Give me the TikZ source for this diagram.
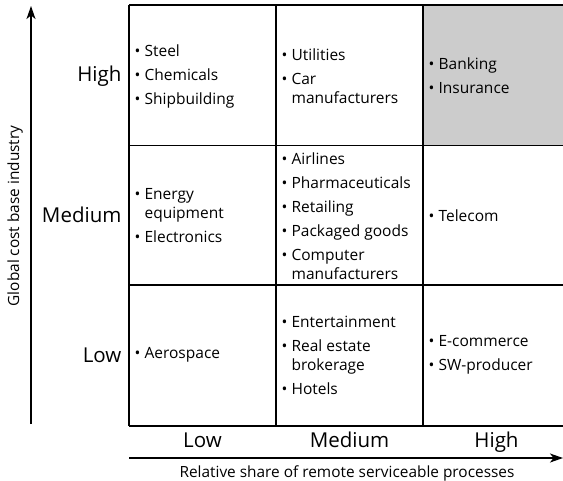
\documentclass[tikz,border=0pt]{standalone}
\usepackage{fontspec}
\setmainfont{Open Sans}
\usetikzlibrary{arrows.meta}
\newcommand{\bul}{\makebox[10pt][l]{\textbullet}}
\newcommand{\hang}{\hspace*{10pt}}

\begin{document}
\begin{tikzpicture}[x=1pt, y=-1pt, line width=1.2pt,
  cell/.style = {anchor=west, align=left, inner sep=0pt, font=\fontsize{15.5}{19}\selectfont},
  lvl/.style = {inner sep=0pt, font=\fontsize{20.5}{24}\selectfont},
  ttl/.style = {inner sep=0pt, font=\fontsize{15.4}{18}\selectfont},
  axis/.style = {-{Stealth[length=13pt, width=9pt, inset=3.5pt]}}]
  \useasboundingbox (0,0) rectangle (563,480);
  \fill[black!20] (423,5) rectangle (563,145.5);
  \foreach \y in {5,145.5,285,426} \draw (129,\y) -- (563,\y);
  \foreach \x in {129,276,423} \draw (\x,5) -- (\x,426);

  \node[cell] (hl) at (134,76) {\bul Steel\\[5pt]\bul Chemicals\\[5pt]\bul Shipbuilding};
  \node[cell] (hm) at (281,76) {\bul Utilities\\[5pt]\bul Car\\\hang manufacturers};
  \node[cell] (hh) at (428,76) {\bul Banking\\[5pt]\bul Insurance};
  \node[cell] (ml) at (134,216) {\bul Energy\\\hang equipment\\[5pt]\bul Electronics};
  \node[cell] (mm) at (281,216) {\bul Airlines\\[5pt]\bul Pharmaceuticals\\[5pt]\bul Retailing\\[5pt]\bul Packaged goods\\[5pt]\bul Computer\\\hang manufacturers};
  \node[cell] (mh) at (428,216) {\bul Telecom};
  \node[cell] (ll) at (134,355) {\bul Aerospace};
  \node[cell] (lm) at (281,355) {\bul Entertainment\\[5pt]\bul Real estate\\\hang brokerage\\[5pt]\bul Hotels};
  \node[cell] (lh) at (428,355) {\bul E-commerce\\[5pt]\bul SW-producer};

  \node[lvl, anchor=base east] (rowh) at (122,81) {High};
  \node[lvl, anchor=base east] (rowm) at (122,222) {Medium};
  \node[lvl, anchor=base east] (rowl) at (122,362) {Low};
  \node[lvl, anchor=base] (coll) at (202.5,447) {Low};
  \node[lvl, anchor=base] (colm) at (349.5,447) {Medium};
  \node[lvl, anchor=base] (colh) at (496.5,447) {High};

  \coordinate (ybot) at (31,424);
  \coordinate (ytop) at (31,6);
  \coordinate (xleft) at (129,458);
  \coordinate (xright) at (563,458);
  \draw[axis] (ybot) -- (ytop);
  \draw[axis] (xleft) -- (xright);
  \node[ttl, anchor=base] (xttl) at (347,477) {Relative share of remote serviceable processes};
  \node[ttl, rotate=90] (yttl) at (15,216) {Global cost base industry};
\end{tikzpicture}
\end{document}
